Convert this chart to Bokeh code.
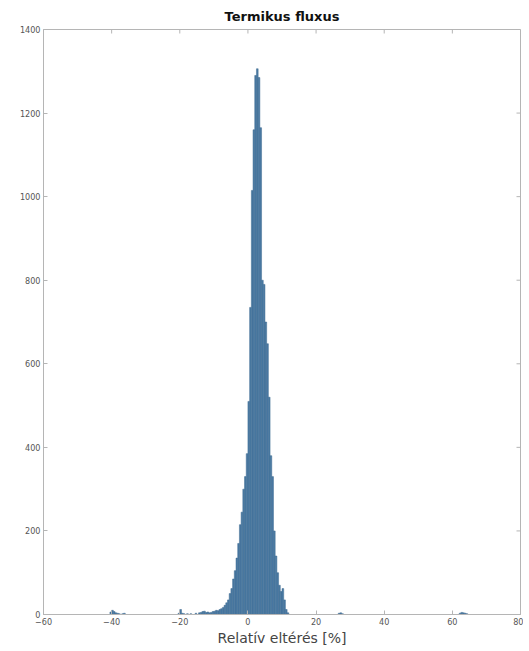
from bokeh.plotting import figure
from bokeh.models import Range1d, FixedTicker
from bokeh.embed import file_html
from bokeh.resources import INLINE

# Histogram of relative deviation [%], bin width 0.5
bin_centers = [
    -40.25, -39.75, -39.25, -38.75, -38.25, -37.75, -36.75, -36.25,
    -20.25, -19.75, -19.25, -18.75, -17.75, -16.75, -15.25, -14.25,
    -13.75, -13.25, -12.75, -12.25, -11.75, -11.25, -10.75, -10.25,
    -9.75, -9.25, -8.75, -8.25, -7.75, -7.25, -6.75, -6.25, -5.75,
    -5.25, -4.75, -4.25, -3.75, -3.25, -2.75, -2.25, -1.75, -1.25,
    -0.75, -0.25, 0.25, 0.75, 1.25, 1.75, 2.25, 2.75, 3.25, 3.75,
    4.25, 4.75, 5.25, 5.75, 6.25, 6.75, 7.25, 7.75, 8.25, 8.75,
    9.25, 9.75, 10.25, 10.75, 11.25, 11.75,
    26.75, 27.25, 27.75,
    62.25, 62.75, 63.25, 63.75, 64.25,
]
counts = [
    6, 10, 7, 4, 3, 2, 2, 3,
    3, 12, 3, 2, 2, 2, 3, 4,
    5, 7, 8, 5, 6, 4, 5, 7,
    8, 10, 9, 12, 14, 17, 22, 28, 35,
    50, 62, 85, 105, 135, 170, 215, 245, 300,
    330, 385, 510, 735, 1015, 1160, 1290, 1306, 1285, 1165,
    800, 790, 700, 648, 520, 380, 330, 200, 140, 100,
    70, 55, 62, 35, 12, 4,
    3, 4, 2,
    3, 5, 4, 3, 2,
]
bin_width = 0.5
x_ticks = [-60, -40, -20, 0, 20, 40, 60, 80]
y_ticks = [0, 200, 400, 600, 800, 1000, 1200, 1400]
X_MIN, X_MAX = -60, 80
Y_MIN, Y_MAX = 0, 1400

W, H = 523, 651
BL, BR, BT, BB = 43, 3, 29, 37
p = figure(width=W, height=H, output_backend="svg", toolbar_location=None,
           x_range=Range1d(X_MIN, X_MAX), y_range=Range1d(Y_MIN, Y_MAX),
           min_border_left=BL, min_border_right=BR, min_border_top=BT, min_border_bottom=BB)

p.title.text = "Termikus fluxus"
p.title.align = "center"
p.title.text_font = "DejaVu Sans"
p.title.text_font_size = "13px"
p.title.text_font_style = "bold"
p.title.text_color = "#111111"
p.title.standoff = 12
p.title.offset = 0

p.vbar(x=bin_centers, top=counts, width=bin_width, bottom=0,
       fill_color="#4b7ba4", line_color="#3f6b90", line_width=0.5)

p.xgrid.visible = False
p.ygrid.visible = False
p.outline_line_color = "#b5b5b5"
p.background_fill_color = "white"

axis_color = "#b5b5b5"
for ax in (p.xaxis[0], p.yaxis[0]):
    ax.axis_line_color = axis_color
    ax.major_tick_line_color = axis_color
    ax.major_tick_in = 4
    ax.major_tick_out = 0
    ax.minor_tick_line_color = None
    ax.major_label_text_font = "DejaVu Sans Condensed"
    ax.major_label_text_font_size = "9px"
    ax.major_label_text_color = "#555555"
    ax.major_label_standoff = 3

p.xaxis[0].ticker = FixedTicker(ticks=x_ticks)
p.yaxis[0].ticker = FixedTicker(ticks=y_ticks)
p.xaxis[0].axis_label = "Relatív eltérés [%]"
p.xaxis[0].axis_label_text_font = "DejaVu Sans"
p.xaxis[0].axis_label_text_font_size = "14px"
p.xaxis[0].axis_label_text_font_style = "normal"
p.xaxis[0].axis_label_text_color = "#444444"
p.xaxis[0].axis_label_standoff = 2

# inward tick marks on the top and right box edges (4 px long)
frame_w = W - BL - BR
frame_h = H - BT - BB
tick_px = 4
dy = tick_px * (Y_MAX - Y_MIN) / frame_h
dx = tick_px * (X_MAX - X_MIN) / frame_w
p.segment(x0=x_ticks, y0=[Y_MAX] * len(x_ticks), x1=x_ticks, y1=[Y_MAX - dy] * len(x_ticks),
          line_color=axis_color, line_width=1)
p.segment(x0=[X_MAX] * len(y_ticks), y0=y_ticks, x1=[X_MAX - dx] * len(y_ticks), y1=y_ticks,
          line_color=axis_color, line_width=1)

open("out.html", "w").write(file_html(p, INLINE))
